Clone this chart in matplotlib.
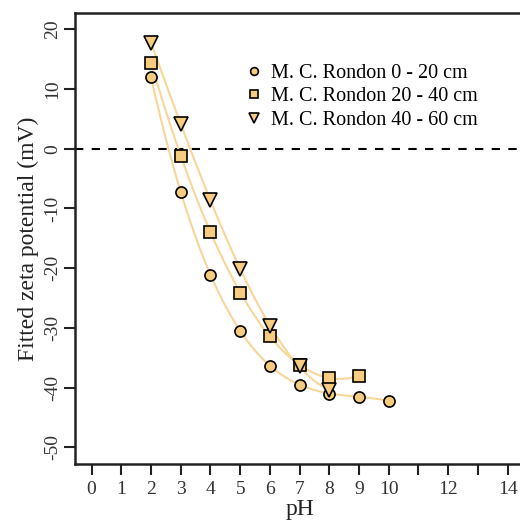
import numpy as np
import matplotlib
matplotlib.use("Agg")
import matplotlib.pyplot as plt

plt.rcParams["font.family"] = ["Liberation Serif", "DejaVu Serif"]
plt.rcParams["axes.unicode_minus"] = False

# zeta potential vs pH for the three sampling depths
ph_0_20 = [2, 3, 4, 5, 6, 7, 8, 9, 10]
zeta_0_20 = [12.0, -7.3, -21.1, -30.5, -36.3, -39.5, -41.0, -41.6, -42.2]

ph_20_40 = [2, 3, 4, 5, 6, 7, 8, 9]
zeta_20_40 = [14.4, -1.2, -13.9, -24.1, -31.4, -36.2, -38.4, -38.0]

ph_40_60 = [2, 3, 4, 5, 6, 7, 8]
zeta_40_60 = [17.7, 4.2, -8.6, -20.2, -29.7, -36.4, -40.4]

labels = ["M. C. Rondon 0 - 20 cm", "M. C. Rondon 20 - 40 cm", "M. C. Rondon 40 - 60 cm"]
markers = ["o", "s", "v"]
sizes = [8, 8, 10]

fill = "#f6cc80"
curve = "#f8d699"

fig = plt.figure(figsize=(5.2, 5.22), dpi=100)
ax = fig.add_axes([0.1442, 0.1111, 0.864, 0.8646])

series = [(ph_0_20, zeta_0_20), (ph_20_40, zeta_20_40), (ph_40_60, zeta_40_60)]
handles = []
for (x, y), m, ms, lab in zip(series, markers, sizes, labels):
    x = np.asarray(x, float)
    y = np.asarray(y, float)
    coef = np.polyfit(x, y, 3)
    xs = np.linspace(x.min(), x.max(), 200)
    ax.plot(xs, np.polyval(coef, xs), color=curve, lw=1.5, zorder=2)
    h, = ax.plot(x, y, ls="none", marker=m, ms=ms, mfc=fill, mec="black",
                 mew=1.2, zorder=3, label=lab)
    handles.append(h)

ax.axhline(0, color="black", lw=1.5, ls=(0, (4, 4)), zorder=1)

ax.set_xlim(-0.56, 14.56)
ax.set_ylim(-52.8, 22.8)

ax.set_xticks(range(0, 15))
ax.set_xticklabels([str(i) if (i <= 10 or i % 2 == 0) else "" for i in range(0, 15)])
ax.set_yticks(range(-50, 21, 10))
for lbl in ax.get_yticklabels():
    lbl.set_rotation(90)
    lbl.set_va("center")

ax.tick_params(axis="both", direction="out", length=8, width=1.5,
               labelsize=14, color="#222222", labelcolor="#333333")
ax.tick_params(axis="x", pad=4)
ax.tick_params(axis="y", pad=2)

for s in ["left", "bottom", "top", "right"]:
    ax.spines[s].set_linewidth(1.8)
    ax.spines[s].set_color("#222222")

ax.set_xlabel("pH", fontsize=17, color="#222222", labelpad=1)
ax.set_ylabel("Fitted zeta potential (mV)", fontsize=17, color="#222222", labelpad=4)

ax.legend(handles=handles, loc="upper left", bbox_to_anchor=(0.47, 0.877),
          bbox_transform=fig.transFigure, frameon=False, fontsize=14.5,
          markerscale=0.7, handlelength=1.0, handletextpad=0.3,
          labelspacing=0.2, borderpad=0, borderaxespad=0)

fig.savefig("out.png", dpi=100)
